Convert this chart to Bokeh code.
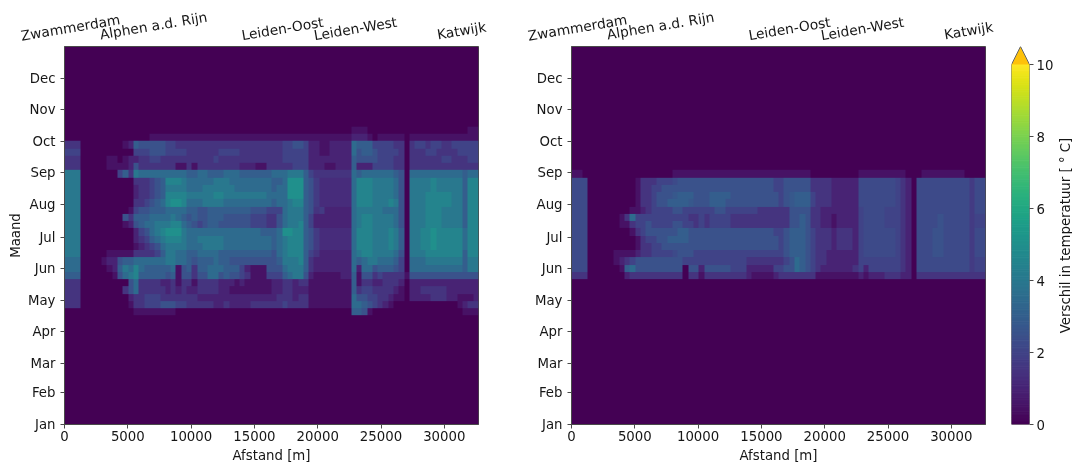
import numpy as np
from bokeh.core.properties import value
from bokeh.embed import file_html
from bokeh.resources import INLINE
from bokeh.layouts import column, row
from bokeh.models import FixedTicker, LinearAxis, LinearColorMapper, Range1d
from bokeh.palettes import Viridis256
from bokeh.plotting import figure

months = ["Jan", "Feb", "Mar", "Apr", "May", "Jun", "Jul", "Aug", "Sep", "Oct", "Nov", "Dec"]
month_days = [0, 31, 59, 90, 120, 151, 181, 212, 243, 273, 304, 334]
places = ["Zwammerdam", "Alphen a.d. Rijn", "Leiden-Oost", "Leiden-West", "Katwijk"]
place_m = [474, 7030, 17220, 22985, 31360]
place_lift = [19, 21, 18, 18, 16]
x_ticks = [0, 5000, 10000, 15000, 20000, 25000, 30000]
cbar_ticks = [0, 2, 4, 6, 8, 10]
cbar_label = "Verschil in temperatuur [ ° C]"
max_m = 32700
n_cols = 78
week_days = 7

# temperature difference per week (row) and distance cell; digits are steps of 0.5 degC,
# s/r/p/q are the in-between values 1.25, 1.75, 2.25 and 2.75; top row first
half_steps = {"s": 1.25, "r": 1.75, "p": 2.25, "q": 2.75}
left_top_week = 40
left_weeks = [
    "000 0000000 000 000000 0000 0000000000 00000000 00000 00000000 1 1100 00000 0 0000000000011",
    "000 0000000 000 000111 1111 1111111111 11111111 11111 11111111 2 2210 11111 0 1111111111111",
    "333 0000000 012 655555 4433 3333333333 33333333 44554 22112222 7 6664 44433 0 3443443344444",
    "444 0000000 000 444555 4444 3333334444 33333333 44444 22112222 7 5665 44443 0 3334433334444",
    "333 0000011 012 233443 3333 3333343333 33333333 44444 22222222 6 5555 44433 0 3333334433344",
    "333 0000011 112 533333 3311 3133333333 22211333 33444 22211222 6 2224 44433 0 3333333333333",
    "888 0000000 463 877777 7777 6677666777 66666677 78886 43333333 7 6777 77765 0 7777777777677",
    "888 0000000 000 333456 9998 7777788877 77777766 7aaa6 5rssssss 7 9998 88875 0 8888988888699",
    "888 0000000 000 233456 8888 7778888887 77777767 7aaa6 5rssssss 7 9998 88875 0 8888988888699",
    "888 0000000 000 233456 9999 8888899888 88888777 7aaa6 5rssssss 7 9998 88875 0 8889999988699",
    "888 0000000 000 334567 9aa9 7778888777 77777767 78996 5rssssss 7 9998 88985 0 8889999988699",
    "888 0000000 001 455666 7777 6655666666 66555444 78886 53r22222 7 8888 87775 0 8889998888699",
    "888 0000000 053 666777 7876 5655666555 55444335 78886 42222222 7 8998 88875 0 8889998888699",
    "888 0000000 012 567788 8997 6545665555 55444335 78896 42222222 7 8998 88875 0 8889998888699",
    "888 0000000 000 245789 aaa8 7777777777 77776667 aa996 5rssssss 7 9998 88986 0 8899a99999799",
    "888 0000000 000 234678 9998 7788888777 77777767 89996 5rssssss 7 9998 88986 0 8899a99999799",
    "888 0000000 000 123457 8888 7778888777 77777767 89996 5rssssss 7 9998 88986 0 8899a99999799",
    "888 0000011 111 333346 8877 6677776666 66666657 89996 43222222 7 8998 88875 0 8889999999699",
    "777 0000122 566 777777 8877 6566676655 55555556 88896 32222222 7 6788 77764 0 7778888888688",
    "777 0000012 687 976666 6715 6366777666 42111555 78886 32222222 7 2775 66654 0 7777777777688",
    "666 0000001 578 966666 5615 5355775655 43111444 67885 21111122 6 1553 43333 1 5555555555555",
    "333 0000000 005 733332 2313 3133332221 21111122 33233 11111111 6 1332 23332 0 2222222222222",
    "333 0000000 035 733333 2323 2233332211 11111122 33222 11111111 6 3443 33321 0 2233333222222",
    "333 0000000 002 334443 3333 3322222222 22222223 33233 11111111 7 5544 33211 0 2222333221112",
    "333 0000000 001 334445 5544 3333322322 22333333 43333 11111111 7 7654 32100 0 0000000001233",
    "000 0000000 000 111111 1100 0000000000 00000000 00000 00000000 6 6510 00000 0 0000000000111",
]
right_top_week = 34
right_weeks = [
    "110 0000000 000 000000 1111 1111111111 11111111 11110 00000000 1 1111 11110 0 0111111110000",
    "ppp 0000000 001 333444 p555 5555555555 55555445 55553 33322222 p pppp pp432 0 pppppppppprpp",
    "ppp 0000000 001 334455 5555 5555555555 55555445 55553 33322222 p pppp pp432 0 pppppppppprpp",
    "ppp 0000000 001 334555 q666 5556666555 55555545 q6664 33322222 p pppp pp432 0 pppppppppprpp",
    "ppp 0000000 001 334556 666q 5556665555 55555545 q6664 33322222 p pppp pp432 0 pppppppppprpp",
    "ppp 0000000 011 234444 5544 4444554444 44333333 55553 32222222 4 pppp 44432 0 pppppppppprpp",
    "ppp 0000001 374 444444 4443 3434444333 33333333 55653 32212222 4 pppp 44432 0 pppp5pppppr44",
    "ppp 0000001 134 454444 5544 3434444333 33333333 55653 32212222 4 pppp 44432 0 pppp5pppppr44",
    "ppp 0000000 013 455555 5665 5555555555 55555445 66654 33323332 4 pppp pp432 0 ppp55ppppprpp",
    "ppp 0000000 001 344556 6665 5555555555 55555545 66654 33323332 4 pppp pp432 0 ppp55ppppprpp",
    "ppp 0000000 001 334455 5555 5555555555 55555545 66654 33323332 4 pppp pp432 0 ppp55ppppprpp",
    "ppp 0000011 112 334444 p555 4444444444 44444445 66654 33222222 4 pppp pp432 0 ppp55ppppprpp",
    "ppp 0000012 345 555555 5544 4444444444 33333334 57654 33222222 4 4444 44432 0 ppppppppppr44",
    "ppp 0000001 675 555555 5505 5255555444 22222445 57654 32222223 4 2444 44432 0 ppppppppppr44",
    "333 0000000 233 333333 3303 3133333333 21111233 33333 11111111 2 1222 33322 0 3333333333333",
]

FONT = "DejaVu Sans"
TXT = "#161616"
FS = "13.3px"
LINE = "#4a4a4a"
PAGE_W = 1072
HEAD_H = 46
FRAME_W = 414
FRAME_H = 378
LEFT_FRAME_X = 64
RIGHT_FRAME_X = 571
mapper = LinearColorMapper(palette=Viridis256, low=0, high=10)


def cell_value(c):
    return half_steps[c] if c in half_steps else int(c, 16) / 2


def grid(rows, top_week):
    weeks = 52
    arr = np.zeros((weeks, n_cols))
    for k, r in enumerate(rows):
        cells = r.replace(" ", "")
        arr[top_week - k] = [cell_value(c) for c in cells]
    return arr


def panel(rows, top_week, left, right, ylabel):
    p = figure(frame_width=FRAME_W, frame_height=FRAME_H, x_range=Range1d(0, max_m), y_range=Range1d(0, 365),
               output_backend="svg", toolbar_location=None, min_border_left=left, min_border_right=right,
               min_border_top=0, min_border_bottom=32, background_fill_color="#440154",
               outline_line_color=LINE, outline_line_width=1)
    p.grid.visible = False
    arr = grid(rows, top_week)
    p.image(image=[arr], x=0, y=0, dw=max_m, dh=arr.shape[0] * week_days, color_mapper=mapper)
    p.xaxis.ticker = FixedTicker(ticks=x_ticks)
    p.xaxis.axis_label = "Afstand [m]"
    p.xaxis.formatter.use_scientific = False
    p.yaxis.ticker = FixedTicker(ticks=month_days)
    p.yaxis.major_label_overrides = dict(zip(month_days, months))
    p.yaxis.axis_label = ylabel
    for ax in p.axis:
        ax.minor_tick_line_color = None
        ax.major_label_text_font = FONT
        ax.major_label_text_font_size = FS
        ax.major_label_text_color = TXT
        ax.axis_label_text_font = FONT
        ax.axis_label_text_font_size = FS
        ax.axis_label_text_font_style = "normal"
        ax.axis_label_text_color = TXT
        ax.axis_label_standoff = 4
        ax.major_tick_in = 0
        ax.major_tick_out = 4
        ax.major_tick_line_color = LINE
        ax.axis_line_color = LINE
    p.xaxis[0].major_label_standoff = 2
    p.yaxis[0].major_label_standoff = 5
    p.yaxis[0].axis_label_standoff = 2
    return p


def bare_figure(width, height, xr, yr):
    f = figure(frame_width=width, frame_height=height, x_range=xr, y_range=yr, output_backend="svg",
               toolbar_location=None, x_axis_type=None, y_axis_type=None, outline_line_color=None,
               min_border_left=0, min_border_right=0, min_border_top=0, min_border_bottom=0)
    f.grid.visible = False
    return f


# strip above the panels with the place names, positioned by distance along each panel's x scale
head = bare_figure(PAGE_W, HEAD_H, Range1d(0, PAGE_W), Range1d(0, HEAD_H))
for frame_x in (LEFT_FRAME_X, RIGHT_FRAME_X):
    head.text(x=[frame_x + m / max_m * FRAME_W for m in place_m], y=place_lift, text=places, angle=9.5,
              angle_units="deg", text_align="center", text_baseline="middle", text_font=value(FONT),
              text_font_size="13.8px", text_color=TXT)

p1 = panel(left_weeks, left_top_week, 64, 40, "Maand")
p2 = panel(right_weeks, right_top_week, 53, 5, None)

# colour bar with its "over" arrow
cb = figure(frame_width=18, frame_height=FRAME_H, x_range=Range1d(0, 1), y_range=Range1d(0, 10.5),
            output_backend="svg", toolbar_location=None, min_border_left=21, min_border_right=26,
            min_border_top=0, min_border_bottom=32, outline_line_color=None, background_fill_color=None,
            border_fill_color=None)
cb.grid.visible = False
cb.xaxis.visible = False
cb.yaxis.visible = False
levels = np.linspace(0, 10, 257)
cb.quad(left=0, right=1, bottom=levels[:-1], top=levels[1:], fill_color=list(Viridis256), line_color=list(Viridis256))
cb.patch([0, 0.5, 1], [10, 10.5, 10], fill_color="#fdc10a", line_color=None)
cb.line([0, 0, 0.5, 1, 1, 0], [0, 10, 10.5, 10, 0, 0], line_color="#666666", line_width=1)
ax = LinearAxis(ticker=FixedTicker(ticks=cbar_ticks))
ax.minor_tick_line_color = None
ax.major_tick_in = 0
ax.major_tick_out = 4
ax.major_tick_line_color = LINE
ax.axis_line_color = None
ax.major_label_text_font = FONT
ax.major_label_text_font_size = FS
ax.major_label_text_color = TXT
ax.major_label_standoff = 3
cb.add_layout(ax, "right")

side = bare_figure(16, FRAME_H, Range1d(0, 16), Range1d(0, FRAME_H))
side.text(x=[9], y=[FRAME_H / 2], text=[cbar_label], angle=90, angle_units="deg", text_align="center",
          text_baseline="middle", text_font=value(FONT), text_font_size=FS, text_color=TXT)

page = column(head, row(p1, p2, cb, side, spacing=0), spacing=0, styles={"filter": "blur(0.6px)"})
open("out.html", "w").write(file_html(page, INLINE))
